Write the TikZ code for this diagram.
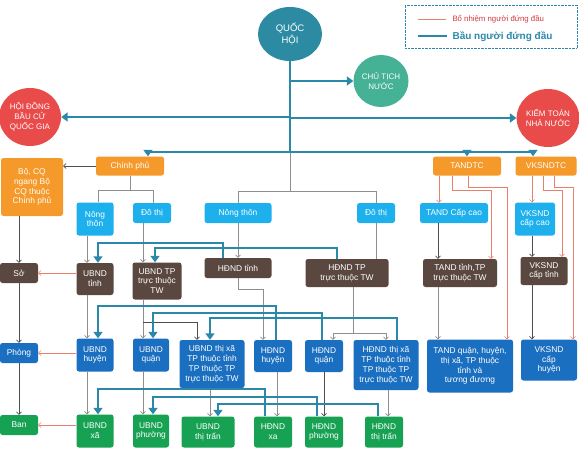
\documentclass[tikz,border=0pt]{standalone}
\usepackage{fontspec}
\setmainfont{Liberation Sans}
\usetikzlibrary{arrows.meta,shapes.geometric}

\definecolor{qhteal}{HTML}{2C8BA3}
\definecolor{ctngreen}{HTML}{45B195}
\definecolor{hdred}{HTML}{E94B4B}
\definecolor{cporange}{HTML}{F4992A}
\definecolor{ltblue}{HTML}{1DB0EC}
\definecolor{dkbrown}{HTML}{5A4840}
\definecolor{midblue}{HTML}{1B6FC0}
\definecolor{lvgreen}{HTML}{17A253}
\definecolor{electline}{HTML}{2A88A8}
\definecolor{apptline}{HTML}{E8806C}
\definecolor{greyline}{HTML}{8E8E8E}
\definecolor{darkline}{HTML}{4F4F4F}
\definecolor{legred}{HTML}{D2383C}

\tikzset{
  box/.style={rounded corners=2.5pt, text=white, align=center, inner sep=1pt,
    font=\fontsize{8.4}{9.8}\selectfont},
  orangebox/.style={box, fill=cporange},
  cyanbox/.style={box, fill=ltblue},
  brownbox/.style={box, fill=dkbrown},
  bluebox/.style={box, fill=midblue},
  greenbox/.style={box, fill=lvgreen},
  circ/.style={ellipse, inner sep=0pt, text=white, align=center,
    font=\fontsize{8}{10}\selectfont},
  electbar/.style={draw=electline, line width=2.4pt},
  elect/.style={electbar, -{Triangle[length=6.5pt,width=9pt]}},
  appt/.style={draw=apptline, line width=0.5pt, -{Straight Barb[length=2.5pt,width=5pt]}},
  link/.style={draw=greyline, line width=0.6pt, -{Straight Barb[length=2.5pt,width=5pt]}},
  darklink/.style={link, draw=darkline},
  plain/.style={draw=greyline, line width=0.6pt}
}

\begin{document}
\begin{tikzpicture}[x=1pt,y=-1pt]
\useasboundingbox (0,0) rectangle (579,451);

% legend
\node[draw=electline, densely dotted, minimum width=172, minimum height=43, inner sep=0pt] (legend) at (491,26.5) {};
\draw[draw=apptline, line width=0.4pt] (418,19) -- (446,19);
\node[anchor=west, text=legred, font=\fontsize{7.8}{9}\selectfont] (lgappt) at (449,19) {Bổ nhiệm người đứng đầu};
\draw[electbar, line width=2pt] (418,36) -- (447,36);
\node[anchor=west, text=electline, font=\fontsize{10}{12}\bfseries] (lgelect) at (449,36.5) {Bầu người đứng đầu};

% circles
\node[circ, fill=qhteal, minimum width=64, minimum height=54, font=\fontsize{9.5}{11.5}\selectfont] (qh) at (290,34) {QUỐC\\HỘI};
\node[circ, fill=ctngreen, minimum width=55, minimum height=52] (ctn) at (381,81) {CHỦ TỊCH\\NƯỚC};
\node[circ, fill=hdred, minimum width=62, minimum height=58] (hdbc) at (30,117) {HỘI ĐỒNG\\BẦU CỬ\\QUỐC GIA};
\node[circ, fill=hdred, minimum width=62, minimum height=58] (ktnn) at (548,118) {KIỂM TOÁN\\NHÀ NƯỚC};

% row 2
\node[orangebox, minimum width=68, minimum height=19] (cp) at (130,166) {Chính phủ};
\node[orangebox, minimum width=62, minimum height=58] (bo) at (32,187) {Bộ, CQ\\ngang Bộ\\CQ thuộc\\Chính phủ};
\node[orangebox, minimum width=68, minimum height=19] (tandtc) at (467,166) {TANDTC};
\node[orangebox, minimum width=61, minimum height=19] (vksndtc) at (546,166) {VKSNDTC};

% row 3
\node[cyanbox, minimum width=37, minimum height=33] (ntcp) at (95,219) {Nông\\thôn};
\node[cyanbox, minimum width=38, minimum height=20] (dtcp) at (152,213) {Đô thị};
\node[cyanbox, minimum width=67, minimum height=20] (nthd) at (238,213) {Nông thôn};
\node[cyanbox, minimum width=38, minimum height=20] (dthd) at (376,213) {Đô thị};
\node[cyanbox, minimum width=68, minimum height=20] (tandcc) at (454,213) {TAND Cấp cao};
\node[cyanbox, minimum width=40, minimum height=33] (vkscc) at (535,219) {VKSND\\cấp cao};

% row 4
\node[brownbox, minimum width=38, minimum height=20] (so) at (19,273) {Sở};
\node[brownbox, minimum width=37, minimum height=32] (ubtinh) at (95,279) {UBND\\tỉnh};
\node[brownbox, minimum width=49, minimum height=37] (ubtp) at (157,281) {UBND TP\\trực thuộc\\TW};
\node[brownbox, minimum width=67, minimum height=20] (hdtinh) at (238,268) {HĐND tỉnh};
\node[brownbox, minimum width=83, minimum height=28] (hdtp) at (347,273) {HĐND TP\\trực thuộc TW};
\node[brownbox, minimum width=74, minimum height=28] (tandtinh) at (460,273) {TAND tỉnh,TP\\trực thuộc TW};
\node[brownbox, minimum width=47, minimum height=28] (vkstinh) at (544,271) {VKSND\\cấp tỉnh};

% row 5
\node[bluebox, minimum width=38, minimum height=20] (phong) at (19,353) {Phòng};
\node[bluebox, minimum width=37, minimum height=33] (ubhuyen) at (95,355) {UBND\\huyện};
\node[bluebox, minimum width=36, minimum height=33] (ubquan) at (151,355) {UBND\\quận};
\node[bluebox, minimum width=65, minimum height=48] (ubtx) at (212,364) {UBND thị xã\\TP thuộc tỉnh\\TP thuộc TP\\trực thuộc TW};
\node[bluebox, minimum width=38, minimum height=32] (hdhuyen) at (273,356) {HĐND\\huyện};
\node[bluebox, minimum width=38, minimum height=32] (hdquan) at (324,356) {HĐND\\quận};
\node[bluebox, minimum width=65, minimum height=50] (hdtx) at (386,365) {HĐND thị xã\\TP thuộc tỉnh\\TP thuộc TP\\trực thuộc TW};
\node[bluebox, minimum width=86, minimum height=53] (tandhuyen) at (470,366) {TAND quận, huyện,\\thị xã, TP thuộc\\tỉnh và\\tương đương};
\node[bluebox, minimum width=56, minimum height=41] (vkshuyen) at (549,360) {VKSND\\cấp\\huyện};

% row 6
\node[greenbox, minimum width=38, minimum height=20] (ban) at (19,425) {Ban};
\node[greenbox, minimum width=37, minimum height=33] (ubxa) at (95,431) {UBND\\xã};
\node[greenbox, minimum width=36, minimum height=33] (ubphuong) at (151,431) {UBND\\phường};
\node[greenbox, minimum width=53, minimum height=31] (ubtt) at (208,432) {UBND\\thị trấn};
\node[greenbox, minimum width=38, minimum height=31] (hdxa) at (273,432) {HĐND\\xa};
\node[greenbox, minimum width=38, minimum height=31] (hdphuong) at (324,432) {HĐND\\phường};
\node[greenbox, minimum width=38, minimum height=31] (hdtt) at (384,432) {HĐND\\thị trấn};

% Quoc hoi
\coordinate (busC) at (290,152);
\coordinate (busL) at (148,152);
\coordinate (busR) at (533,152);
\draw[plain] (busC) -- (290,191) -| (nthd.north);
\draw[plain] (290,191) -| (dthd.north);
\draw[electbar] (qh.south) -- (busC);
\draw[electbar] (busL) -- (busR);
\draw[elect] (qh.south |- ctn.west) -- (ctn.west);
\draw[elect] (qh.south |- hdbc.east) -- (hdbc.east);
\draw[elect] (qh.south |- ktnn.west) -- (ktnn.west);
\draw[elect] (busL) -- (cp.north -| busL);
\draw[elect] (tandtc.north |- busC) -- (tandtc.north);
\draw[elect] (busR) -- (vksndtc.north -| busR);

% Chinh phu
\draw[darklink] (cp.west) -- (bo.east |- cp.west);
\draw[plain] (cp.south) -- (130,190) -| (ntcp.north -| 98,0);
\draw[plain] (130,190) -| (dtcp.north -| 153,0);
\draw[darklink] (so.north |- bo.south) -- (so.north);
\draw[link] (ntcp.south -| 87,0) -- (ubtinh.north -| 87,0);
\draw[link] (dtcp.south -| 143,0) -- (ubtp.north -| 143,0);
\draw[link] (nthd.south) -- (hdtinh.north);
\draw[plain] (dthd.south) -- (hdtp.north -| dthd.south);

% toa an, vien kiem sat
\draw[appt] (tandtc.south -| 439,0) -- (tandcc.north -| 439,0);
\draw[appt] (tandtc.south -| 452,0) -- (452,190) -| (tandtinh.north -| 491,0);
\draw[appt] (tandtc.south -| 468,0) -- (468,187) -| (tandhuyen.north -| 507,0);
\draw[darklink] (tandcc.south -| 438,0) -- (tandtinh.north -| 438,0);
\draw[link] (tandtinh.south -| 438,0) -- (tandhuyen.north -| 438,0);
\draw[appt] (vksndtc.south -| 532,0) -- (vkscc.north -| 532,0);
\draw[appt] (vksndtc.south -| 543,0) -- (543,190) -| (vkstinh.north -| 562,0);
\draw[appt] (vksndtc.south -| 554,0) -- (554,187) -| (vkshuyen.north -| 573,0);
\draw[darklink] (vkscc.south -| 532,0) -- (vkstinh.north -| 532,0);
\draw[darklink] (vkstinh.south -| 532,0) -- (vkshuyen.north -| 532,0);

% cap tinh -> cap huyen -> cap xa
\draw[darklink] (so.south) -- (phong.north);
\draw[darklink] (phong.south) -- (ban.north);
\draw[link] (ubtinh.south -| 87,0) -- (ubhuyen.north -| 87,0);
\draw[link] (ubhuyen.south -| 87,0) -- (ubxa.north -| 87,0);
\draw[link] (ubtp.south -| 143,0) -- (ubquan.north -| 143,0);
\draw[darklink] (143,322) -| (ubtx.north -| 197,0);
\draw[link] (ubquan.south -| 143,0) -- (ubphuong.north -| 143,0);
\draw[link] (ubtx.south -| 210,0) -- (ubtt.north -| 210,0);
\draw[link] (hdtinh.south) -- (238,289) -| (hdhuyen.north -| 263,0);
\draw[plain] (hdtp.south -| 353,0) -- (353,333);
\draw[link] (353,333) -| (hdquan.north -| 333,0);
\draw[link] (353,333) -| (hdtx.north -| 386,0);
\draw[link] (hdhuyen.south -| 277,0) -- (hdxa.north -| 277,0);
\draw[darklink] (hdquan.south) -- (hdphuong.north);
\draw[link] (hdtx.south -| 388,0) -- (hdtt.north -| 388,0);

% bo nhiem
\draw[appt] (ubtinh.west |- so.east) -- (so.east);
\draw[appt] (ubhuyen.west |- phong.east) -- (phong.east);
\draw[appt] (ubxa.west |- ban.east) -- (ban.east);

% bau
\draw[elect] (hdtinh.north -| 223,0) -- (223,243) -| (ubtinh.north -| 98,0);
\draw[elect] (hdtp.north -| 337,0) -- (337,248) -| (ubtp.north -| 155,0);
\draw[elect] (hdhuyen.north -| 276,0) -- (276,306) -| (ubhuyen.north -| 98,0);
\draw[elect] (hdquan.north -| 322,0) -- (322,313) -| (ubquan.north -| 153,0);
\draw[elect] (hdtx.north -| 397,0) -- (397,318) -| (ubtx.north -| 210,0);
\draw[elect] (hdxa.north -| 265,0) -- (265,389) -| (ubxa.north -| 98,0);
\draw[elect] (hdphuong.north -| 317,0) -- (317,397) -| (ubphuong.north -| 153,0);
\draw[elect] (hdtt.north -| 378,0) -- (378,404) -| (ubtt.north -| 218,0);
\end{tikzpicture}
\end{document}
